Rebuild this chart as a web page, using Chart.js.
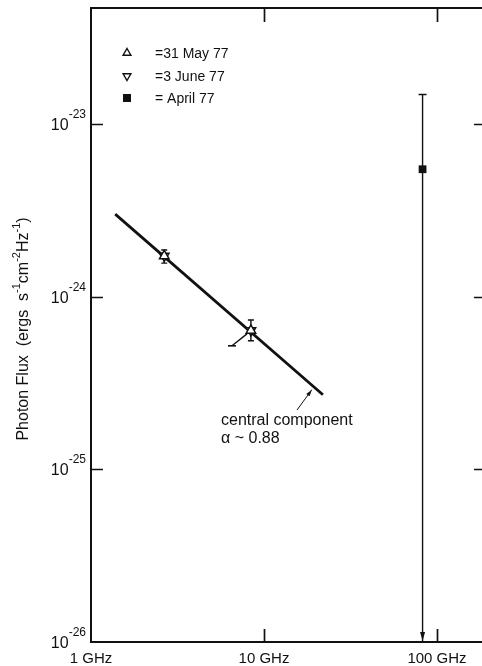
<!DOCTYPE html>
<html>
<head>
<meta charset="utf-8">
<script src="https://cdn.jsdelivr.net/npm/chart.js@4.4.1/dist/chart.umd.min.js"></script>
<style>
  html, body { margin: 0; padding: 0; background: #fff; }
  canvas { display: block; }
</style>
</head>
<body>
<canvas id="chart" width="482" height="666"></canvas>
<script>
// frequency in GHz, flux in ergs s^-1 cm^-2 Hz^-1
const fitFreq = [1.38, 21.9];
const fitFlux = [3.02e-24, 2.71e-25];

const mayFreq = [2.65, 8.4];
const mayFlux = [1.73e-24, 6.4e-25];
const mayErrLow = [1.57e-24, 5.57e-25];
const mayErrHigh = [1.87e-24, 7.36e-25];

const juneFreq = [2.65, 8.4];
const juneFlux = [1.73e-24, 6.4e-25];

const aprilFreq = [82.5];
const aprilFlux = [5.5e-24];
const aprilErrHigh = [1.49e-23];
const aprilErrLow = [1e-26]; // upper limit, arrow down to the axis

const pointerFreq = [6.53, 7.97];
const pointerFlux = [5.21e-25, 6.11e-25];

const xTicks = [1, 10, 100];
const xTickLabels = ["1 GHz", "10 GHz", "100 GHz"];
const yTicks = [1e-26, 1e-25, 1e-24, 1e-23];
const yTickExps = ["-26", "-25", "-24", "-23"];
const legendLabels = ["=31 May 77", "=3 June 77", "= April 77"];

const FONT = '"Liberation Sans", Arial, sans-serif';
const pts = (xs, ys) => xs.map((x, i) => ({ x, y: ys[i] }));

const triangle = (ctx, x, y, r, down) => {
  const s = down ? -1 : 1;
  ctx.beginPath();
  ctx.moveTo(x, y - s * r);
  ctx.lineTo(x + r * 0.866, y + s * r * 0.5);
  ctx.lineTo(x - r * 0.866, y + s * r * 0.5);
  ctx.closePath();
  ctx.fillStyle = "#fff";
  ctx.fill();
  ctx.stroke();
};

const errorBars = {
  id: "errorBars",
  beforeDatasetsDraw(chart) {
    const { ctx, scales: { x, y } } = chart;
    ctx.save();
    ctx.strokeStyle = "#111";
    ctx.fillStyle = "#111";
    ctx.lineWidth = 1.4;
    const bar = (f, lo, hi, cap, arrow) => {
      const px = x.getPixelForValue(f);
      const y1 = y.getPixelForValue(hi);
      const y2 = y.getPixelForValue(lo);
      ctx.beginPath();
      ctx.moveTo(px, y1); ctx.lineTo(px, y2);
      ctx.moveTo(px - cap, y1); ctx.lineTo(px + cap, y1);
      if (!arrow) { ctx.moveTo(px - cap, y2); ctx.lineTo(px + cap, y2); }
      ctx.stroke();
      if (arrow) {
        ctx.beginPath();
        ctx.moveTo(px, y2 - 1);
        ctx.lineTo(px - 2.5, y2 - 10);
        ctx.lineTo(px + 2.5, y2 - 10);
        ctx.closePath();
        ctx.fill();
      }
    };
    mayFreq.forEach((f, i) => bar(f, mayErrLow[i], mayErrHigh[i], 3, false));
    aprilFreq.forEach((f, i) => bar(f, aprilErrLow[i], aprilErrHigh[i], 4, true));
    ctx.restore();
  },
};

const frame = {
  id: "frame",
  afterDraw(chart) {
    const { ctx, chartArea: a, scales: { x, y } } = chart;
    ctx.save();
    ctx.strokeStyle = "#111";
    ctx.lineWidth = 2;
    ctx.beginPath();
    ctx.moveTo(a.right + 2, a.top); ctx.lineTo(a.left, a.top);
    ctx.lineTo(a.left, a.bottom); ctx.lineTo(a.right + 2, a.bottom);
    ctx.stroke();

    // inward ticks
    ctx.lineWidth = 1.7;
    ctx.beginPath();
    xTicks.slice(1).forEach((v) => {
      const px = Math.round(x.getPixelForValue(v)) + 0.5;
      ctx.moveTo(px, a.bottom); ctx.lineTo(px, a.bottom - 13);
      ctx.moveTo(px, a.top); ctx.lineTo(px, a.top + 14);
    });
    yTicks.slice(1).forEach((v) => {
      const py = Math.round(y.getPixelForValue(v)) + 0.5;
      ctx.moveTo(a.left, py); ctx.lineTo(a.left + 12, py);
      ctx.moveTo(a.right, py); ctx.lineTo(a.right - 8, py);
    });
    ctx.stroke();

    // tick labels
    ctx.fillStyle = "#111";
    ctx.textBaseline = "alphabetic";
    ctx.font = `15px ${FONT}`;
    ctx.textAlign = "center";
    xTicks.forEach((v, i) => ctx.fillText(xTickLabels[i], x.getPixelForValue(v), a.bottom + 21));
    yTicks.forEach((v, i) => {
      const py = y.getPixelForValue(v);
      ctx.textAlign = "right";
      ctx.font = `12px ${FONT}`;
      const ew = ctx.measureText(yTickExps[i]).width;
      ctx.fillText(yTickExps[i], a.left - 5, py - 6);
      ctx.font = `16px ${FONT}`;
      ctx.fillText("10", a.left - 5 - ew, py + 6);
    });

    // legend
    ctx.lineWidth = 1.4;
    triangle(ctx, 127, 53, 4.5, false);
    triangle(ctx, 127, 76, 4.5, true);
    ctx.fillStyle = "#111";
    ctx.fillRect(123, 94, 8, 8);
    ctx.font = `14px ${FONT}`;
    ctx.textAlign = "left";
    legendLabels.forEach((t, i) => ctx.fillText(t, 155, 58 + i * 22.5));

    // annotation
    ctx.font = `16px ${FONT}`;
    ctx.fillText("central component", 221, 425);
    ctx.fillText("\u03b1 ~ 0.88", 221, 443);
    const tx = 297, ty = 410;
    const hx = x.getPixelForValue(18.9), hy = y.getPixelForValue(2.9e-25);
    ctx.lineWidth = 1;
    ctx.beginPath(); ctx.moveTo(tx, ty); ctx.lineTo(hx, hy); ctx.stroke();
    const ang = Math.atan2(hy - ty, hx - tx);
    ctx.beginPath();
    ctx.moveTo(hx, hy);
    ctx.lineTo(hx - 7 * Math.cos(ang - 0.3), hy - 7 * Math.sin(ang - 0.3));
    ctx.lineTo(hx - 7 * Math.cos(ang + 0.3), hy - 7 * Math.sin(ang + 0.3));
    ctx.closePath(); ctx.fill();

    // y title, rotated, with superscripts
    const parts = [["Photon Flux  (ergs  s", 0], ["-1", 1], ["cm", 0], ["-2", 1], ["Hz", 0], ["-1", 1], [")", 0]];
    const big = `16px ${FONT}`, small = `11px ${FONT}`;
    let total = 0;
    parts.forEach(([t, sup]) => { ctx.font = sup ? small : big; total += ctx.measureText(t).width; });
    ctx.translate(28, 329);
    ctx.rotate(-Math.PI / 2);
    let cx = -total / 2;
    parts.forEach(([t, sup]) => {
      ctx.font = sup ? small : big;
      ctx.fillText(t, cx, sup ? -8 : 0);
      cx += ctx.measureText(t).width;
    });
    ctx.restore();
  },
};

new Chart(document.getElementById("chart"), {
  type: "scatter",
  data: {
    datasets: [
      { label: "31 May 77", data: pts(mayFreq, mayFlux), pointStyle: "triangle", pointRadius: 5.5,
        borderColor: "#111", backgroundColor: "#fff", borderWidth: 1.5 },
      { label: "3 June 77", data: pts(juneFreq, juneFlux), pointStyle: "triangle", rotation: 180, pointRadius: 5.5,
        borderColor: "#111", backgroundColor: "#fff", borderWidth: 1.5 },
      { label: "April 77", data: pts(aprilFreq, aprilFlux), pointStyle: "rect", pointRadius: 5.5,
        borderColor: "#111", backgroundColor: "#111", borderWidth: 0 },
      { label: "pointer", data: pts(pointerFreq, pointerFlux), showLine: true, borderColor: "#111",
        borderWidth: 1.4, pointStyle: "line", pointRadius: [4, 0], pointBorderWidth: 1.6 },
      { label: "central component", data: pts(fitFreq, fitFlux), showLine: true, borderColor: "#111",
        borderWidth: 2.8, pointRadius: 0 },
    ],
  },
  options: {
    responsive: false,
    animation: false,
    layout: { autoPadding: false, padding: { left: 91, top: 8, right: 0, bottom: 24 } },
    plugins: { legend: { display: false }, tooltip: { enabled: false } },
    scales: {
      x: { type: "logarithmic", min: 1, max: Math.pow(10, 2.26), display: false },
      y: { type: "logarithmic", min: 1e-26, max: Math.pow(10, -22.325), display: false },
    },
  },
  plugins: [errorBars, frame],
});
</script>
</body>
</html>
